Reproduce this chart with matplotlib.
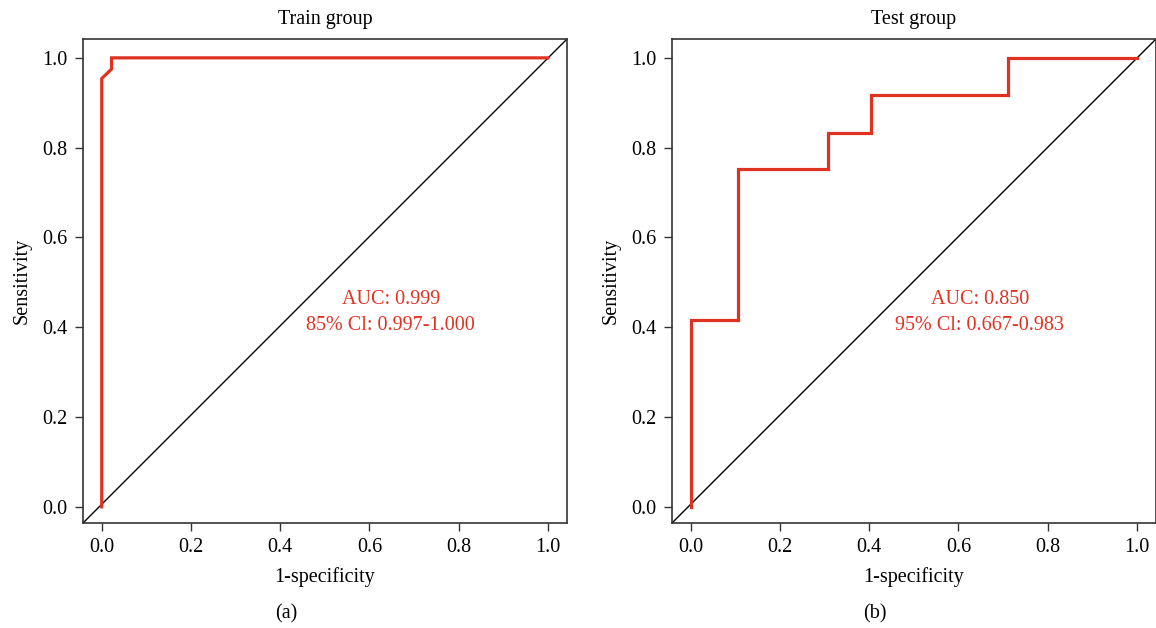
import numpy as np
import matplotlib.pyplot as plt

plt.rcParams['font.family'] = ['Liberation Serif', 'DejaVu Serif']

# ROC points
train_fpr = [0.0, 0.0, 0.022, 0.022, 1.0]
train_tpr = [0.0, 0.954, 0.975, 1.0, 1.0]
test_fpr = [0.0, 0.0, 0.105, 0.105, 0.307, 0.307, 0.404, 0.404, 0.711, 0.711, 1.0]
test_tpr = [0.0, 0.417, 0.417, 0.753, 0.753, 0.833, 0.833, 0.917, 0.917, 1.0, 1.0]

titles = ['Train group', 'Test group']
auc_text = ['AUC: 0.999\n85% Cl: 0.997-1.000', 'AUC: 0.850\n95% Cl: 0.667-0.983']
panel = ['(a)', '(b)']
ticks = [0.0, 0.2, 0.4, 0.6, 0.8, 1.0]

red = '#e03223'
fs = 14.5

fig = plt.figure(figsize=(11.56, 6.28), dpi=100)
lefts = [83 / 1156, 672 / 1156]
data = [(train_fpr, train_tpr), (test_fpr, test_tpr)]

for i in range(2):
    ax = fig.add_axes([lefts[i], 105 / 628, 484 / 1156, 484 / 628])
    ax.plot([0, 1], [0, 1], transform=ax.transAxes, color='black', lw=1.0)
    ax.plot(data[i][0], data[i][1], color=red, lw=2.3, solid_joinstyle='miter')
    ax.set_xlim(-0.042, 1.043)
    ax.set_ylim(-0.036, 1.042)
    ax.set_xticks(ticks)
    ax.set_yticks(ticks)
    ax.set_xticklabels(['%.1f' % t for t in ticks])
    ax.set_yticklabels(['%.1f' % t for t in ticks])
    ax.tick_params(labelsize=fs, length=6, width=1, color='#333333', pad=5)
    for s in ax.spines.values():
        s.set_color('#333333')
        s.set_linewidth(1.2)
    ax.set_title(titles[i], fontsize=fs, pad=11)
    ax.set_xlabel('1-specificity', fontsize=fs, labelpad=7)
    ax.set_ylabel('Sensitivity', fontsize=fs, labelpad=8)
    ax.text(0.648, 0.432, auc_text[i], color=red, fontsize=fs,
            ha='center', va='center', linespacing=1.5)

fig.text(275 / 1156, 1 - 614 / 628, panel[0], fontsize=fs, ha='left', va='center')
fig.text(863 / 1156, 1 - 614 / 628, panel[1], fontsize=fs, ha='left', va='center')

fig.savefig('out.png', dpi=100)
